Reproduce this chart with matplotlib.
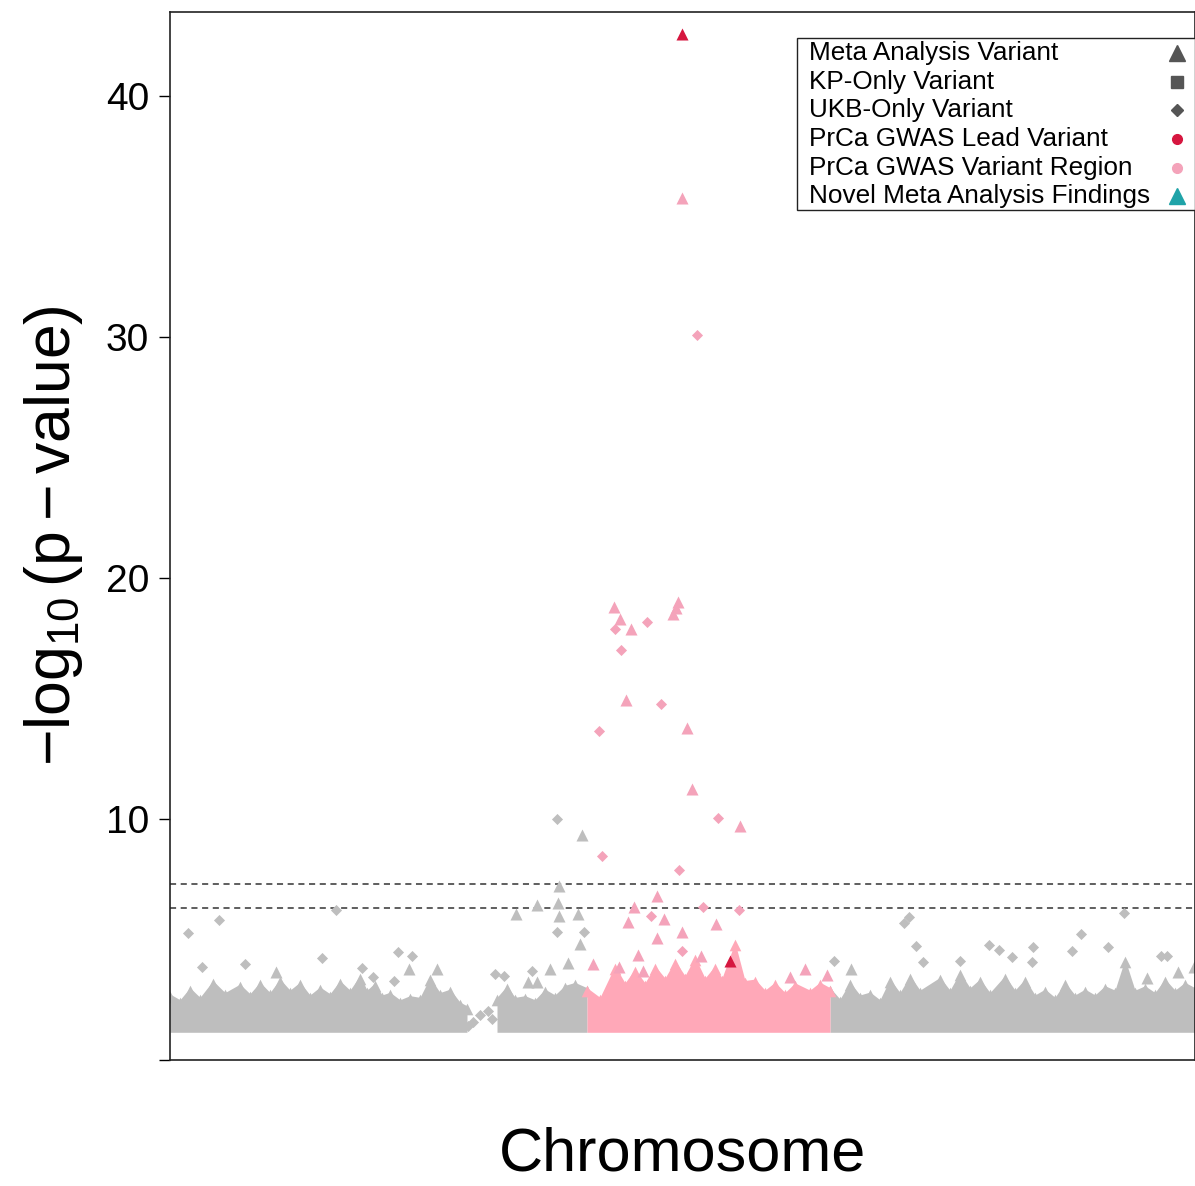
import matplotlib
matplotlib.use('Agg')
import matplotlib.pyplot as plt
from matplotlib.patches import Rectangle
import numpy as np

plt.rcParams['font.family'] = ['Liberation Sans', 'DejaVu Sans']
plt.rcParams['mathtext.fontset'] = 'custom'
plt.rcParams['mathtext.rm'] = 'Liberation Sans'
plt.rcParams['mathtext.it'] = 'Liberation Sans:italic'

# colours
gray = '#bebebe'
pink_band = '#ffa8b8'
pink_pt = '#f4a3ba'
lead_red = '#d6163f'
teal = '#1fa3a8'
legend_gray = '#555555'

# genomic position runs 0..1025 (arbitrary units, no ticks on x)
pink_start, pink_end = 417, 660
gap_start, gap_end = 297, 327
sig_lines = [7.3, 6.3]
band_floor = 1.15

# upper edge of the dense mass of points, read along the axis
band_pos = [0, 10, 20, 30, 43, 55, 70, 80, 90, 100, 110, 120, 130, 140, 150, 160, 170, 180,
            190, 197, 205, 212, 220, 230, 240, 250, 260, 270, 280, 290, 297,
            327, 337, 345, 355, 365, 375, 385, 395, 405, 417,
            430, 445, 455, 465, 475, 485, 495, 505, 515, 525, 535, 545, 552, 565, 575,
            585, 595, 605, 615, 625, 640, 650, 660,
            670, 680, 690, 700, 710, 720, 730, 740, 750, 770, 780, 790, 800, 810, 820,
            835, 845, 855, 865, 875, 885, 895, 905, 915, 925, 935, 945, 955, 965, 975,
            985, 995, 1005, 1015, 1025]
band_top = [2.74, 2.5, 3.0, 2.6, 3.29, 2.8, 3.15, 2.75, 3.23, 2.8, 3.36, 2.9, 3.23, 2.7, 3.03, 2.75, 3.29, 2.9,
            3.5, 2.9, 3.2, 2.7, 2.81, 2.5, 2.67, 2.6, 3.43, 2.8, 2.94, 2.4, 2.25,
            2.6, 3.08, 2.6, 2.67, 2.5, 2.94, 2.7, 3.1, 3.22, 3.0,
            2.6, 3.91, 3.2, 3.77, 3.2, 3.91, 3.4, 4.12, 3.5, 4.27, 3.4, 3.91, 3.4, 4.88, 3.3,
            3.36, 2.9, 3.23, 2.8, 3.2, 2.9, 3.23, 3.0,
            2.53, 3.23, 2.7, 2.82, 2.5, 3.36, 2.8, 3.5, 2.9, 3.43, 2.9, 3.64, 3.0, 3.36, 2.8,
            3.5, 2.9, 3.36, 2.7, 2.94, 2.6, 3.22, 2.7, 2.94, 2.7, 3.08, 2.9, 4.19, 2.9, 3.08,
            2.8, 3.36, 2.9, 3.22, 3.0]

# scattered points above the dense mass
gray_tri_pos = [389.3, 367.3, 387.7, 346, 389.3, 408.3, 412.3, 106, 239.3, 267.3, 398.3, 410,
                357.7, 366.7, 380, 680.7, 1024.3, 1007.7, 976.7]
gray_tri_val = [7.23, 6.43, 6.5, 6.05, 5.98, 6.08, 9.34, 3.64, 3.77, 3.77, 4.02, 4.81,
                3.25, 3.25, 3.77, 3.77, 3.84, 3.66, 3.39]
gray_dia_pos = [387.3, 386.7, 414.3, 18.3, 49.3, 166, 32.3, 152.3, 75, 191.7, 202.7, 228.3,
                242.3, 224, 361.7, 325, 334, 734, 738.7, 745.7, 664, 752.7, 790, 818.7,
                954.3, 910.7, 829.3, 863.3, 901.7, 938.3, 842.3, 862.3, 991, 996.7,
                303.3, 318.3, 310, 298, 322]
gray_dia_val = [10.02, 5.32, 5.32, 5.29, 5.8, 6.23, 3.86, 4.22, 3.98, 3.8, 3.43, 4.49,
                4.3, 3.29, 3.7, 3.57, 3.47, 5.68, 5.92, 4.74, 4.12, 4.08, 4.12, 4.77,
                6.09, 5.22, 4.57, 4.67, 4.53, 4.71, 4.26, 4.08, 4.32, 4.32,
                1.56, 2.05, 1.85, 1.4, 1.7]
pink_tri_pos = [511.7, 444, 450, 461, 507.7, 506, 503.3, 456, 516.7, 521.7, 570, 487.3,
                464, 494, 457.7, 511.7, 546, 486.7, 468.3, 531, 473.3, 449.3, 423.3,
                620, 635, 656.7]
pink_tri_val = [35.8, 18.8, 18.3, 17.87, 19.0, 18.77, 18.53, 14.94, 13.76, 11.24, 9.71, 6.81,
                6.33, 5.87, 5.73, 5.32, 5.64, 5.05, 4.35, 4.32, 3.7, 3.88, 3.98,
                3.43, 3.77, 3.52]
pink_dia_pos = [527.3, 445, 476.7, 450.7, 491, 429.3, 547.7, 432, 508.7, 480.7, 532.7, 569.3, 511.7]
pink_dia_val = [30.1, 17.9, 18.19, 17.0, 14.79, 13.64, 10.06, 8.47, 7.88, 5.98, 6.33, 6.22, 4.53]
lead_pos = [511.7, 560]
lead_val = [42.6, 4.1]

# legend entries
legend_labels = ['Meta Analysis Variant', 'KP-Only Variant', 'UKB-Only Variant',
                 'PrCa GWAS Lead Variant', 'PrCa GWAS Variant Region',
                 'Novel Meta Analysis Findings']
legend_markers = ['^', 's', 'D', 'o', 'o', '^']
legend_colors = [legend_gray, legend_gray, legend_gray, lead_red, pink_pt, teal]
legend_sizes = [11, 9, 6, 7, 7, 11]

fig = plt.figure(figsize=(11.95, 11.86), dpi=100)
ax = fig.add_axes([170 / 1195, 1 - 1060 / 1186, 1025 / 1195, 1048 / 1186])

bp = np.array(band_pos, dtype=float)
bt = np.array(band_top)
left = bp <= gap_start
mid = (bp >= gap_end) & (bp <= pink_start)
pink = (bp >= pink_start) & (bp <= pink_end)
right = bp >= pink_end
for mask, col in [(left, gray), (mid, gray), (right, gray), (pink, pink_band)]:
    ax.fill_between(bp[mask], band_floor, bt[mask], color=col, lw=0, zorder=1)
    # marker caps along the upper edge give the ragged look of overplotted points
    ax.scatter(bp[mask], bt[mask] - 0.12, marker='^', s=70, color=col, lw=0, zorder=1)

ax.scatter(gray_tri_pos, gray_tri_val, marker='^', s=75, color=gray, lw=0, zorder=2)
ax.scatter(gray_dia_pos, gray_dia_val, marker='D', s=32, color=gray, lw=0, zorder=2)
ax.scatter(pink_tri_pos, pink_tri_val, marker='^', s=75, color=pink_pt, lw=0, zorder=2)
ax.scatter(pink_dia_pos, pink_dia_val, marker='D', s=32, color=pink_pt, lw=0, zorder=2)
ax.scatter(lead_pos, lead_val, marker='^', s=75, color=lead_red, lw=0, zorder=3)

for yv in sig_lines:
    ax.axhline(yv, color='#333333', lw=1.1, ls=(0, (4, 3)), zorder=1.5)

ax.set_xlim(0, 1025)
ax.set_ylim(0, 43.5)
ax.set_xticks([])
ax.set_yticks([0, 10, 20, 30, 40])
ax.set_yticklabels(['', '10', '20', '30', '40'])
ax.tick_params(axis='y', labelsize=28, length=8, width=1, pad=7)
for sp in ax.spines.values():
    sp.set_linewidth(1.2)
    sp.set_color('#222222')

ax.set_xlabel('Chromosome', fontsize=44, va='center')
ax.xaxis.set_label_coords(0.5, -0.091)
ax.set_ylabel(r'$-\log_{10}\left(\mathrm{p}-\mathrm{value}\right)$', fontsize=45, va='center')
ax.yaxis.set_label_coords(-0.114, 0.5)

# legend box: labels on the left, keys on the right
box_x0, box_x1 = (797 - 170) / 1025, 1.0
box_y0, box_y1 = (1060 - 210) / 1048, (1060 - 38) / 1048
ax.add_patch(Rectangle((box_x0, box_y0), box_x1 - box_x0, box_y1 - box_y0,
                       transform=ax.transAxes, facecolor='white', edgecolor='#222222',
                       lw=1.0, zorder=5, clip_on=False))
row_px = [53, 82, 110, 139, 168, 196]
for i, lab in enumerate(legend_labels):
    yy = (1060 - row_px[i]) / 1048
    ax.text((809 - 170) / 1025, yy, lab, transform=ax.transAxes, fontsize=18.8,
            ha='left', va='center', zorder=6)
    ax.plot([(1177 - 170) / 1025], [yy], transform=ax.transAxes, marker=legend_markers[i],
            color=legend_colors[i], markersize=legend_sizes[i], ls='', zorder=6, clip_on=False)

fig.savefig('out.png', dpi=100)
